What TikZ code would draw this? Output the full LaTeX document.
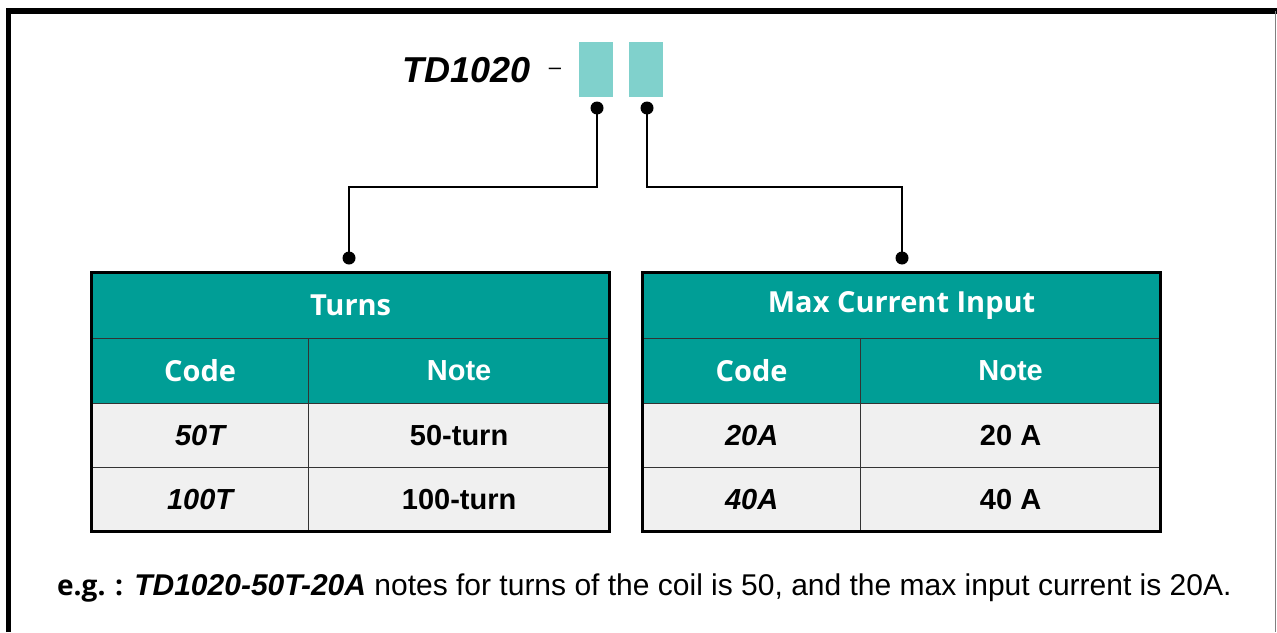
\documentclass[tikz,border=0pt]{standalone}
\usepackage{fontspec}
\setmainfont{Liberation Sans}
\IfFontExistsTF{NotoSans-Bold.ttf}{\newfontfamily\notob{NotoSans-Bold.ttf}}{%
 \IfFontExistsTF{Open Sans Bold}{\newfontfamily\notob{Open Sans Bold}}{%
  \newfontfamily\notob{Noto Sans}[FakeBold=2]}}
\definecolor{teal1}{HTML}{009E96}
\definecolor{teallight}{HTML}{80D1CC}
\definecolor{rowgray}{HTML}{F0F0F0}
\tikzset{
  hdr/.style={fill=teal1, draw=black!80, line width=1.2pt, inner sep=0pt, anchor=north west, text=white},
  cellb/.style={fill=rowgray, draw=black!80, line width=1.2pt, inner sep=0pt, anchor=north west, text=black},
  codebox/.style={fill=teallight, draw=none, minimum width=34pt, minimum height=55pt, inner sep=0pt, anchor=north west},
  conn/.style={line width=2.5pt, line cap=round},
  dotc/.style={circle, fill=black, inner sep=0pt, minimum size=13pt},
  outer/.style={draw=black, line width=3pt},
}
\newcommand{\hfont}{\notob\fontsize{29}{34}\selectfont}
\newcommand{\afont}{\fontsize{29}{34}\selectfont\bfseries}
\begin{document}
\begin{tikzpicture}[x=1pt,y=-1pt]
\useasboundingbox (0,0) rectangle (1277,632);
\fill[white] (0,0) rectangle (1277,632);
% outer frame
\draw[line width=5.5pt] (8.5,632) -- (8.5,11) -- (1277,11);
\draw[gray, line width=1pt] (1275,11) -- (1275,632);

% title
\node[anchor=east, inner sep=0pt] (title) at (531,70) {\fontsize{36}{40}\selectfont\bfseries\itshape TD1020};
\node[anchor=center, inner sep=0pt] (dash) at (555,71) {\fontsize{22}{26}\selectfont –};
\node[codebox] (b1) at (579,42) {};
\node[codebox] (b2) at (629,42) {};
\node[dotc] (d1) at (597,108) {};
\node[dotc] (d2) at (647,108) {};

% table 1
\node[hdr, minimum width=518pt, minimum height=66pt] (t1h) at (91,272) {\hfont Turns};
\node[hdr, minimum width=217pt, minimum height=65pt] (t1c) at (91,338) {\hfont Code};
\node[hdr, minimum width=301pt, minimum height=65pt] (t1n) at (308,338) {\afont Note};
\node[cellb, minimum width=217pt, minimum height=64pt] (t1r1c) at (91,403) {\afont\itshape 50T};
\node[cellb, minimum width=301pt, minimum height=64pt] (t1r1n) at (308,403) {\afont 50-turn};
\node[cellb, minimum width=217pt, minimum height=64pt] (t1r2c) at (91,467) {\afont\itshape 100T};
\node[cellb, minimum width=301pt, minimum height=64pt] (t1r2n) at (308,467) {\afont 100-turn};
\draw[outer] (91,272) rectangle (609,531);

% table 2
\node[hdr, minimum width=518pt, minimum height=66pt] (t2h) at (642,272) {\hfont Max Current Input};
\node[hdr, minimum width=218pt, minimum height=65pt] (t2c) at (642,338) {\hfont Code};
\node[hdr, minimum width=300pt, minimum height=65pt] (t2n) at (860,338) {\afont Note};
\node[cellb, minimum width=218pt, minimum height=64pt] (t2r1c) at (642,403) {\afont\itshape 20A};
\node[cellb, minimum width=300pt, minimum height=64pt] (t2r1n) at (860,403) {\afont 20 A};
\node[cellb, minimum width=218pt, minimum height=64pt] (t2r2c) at (642,467) {\afont\itshape 40A};
\node[cellb, minimum width=300pt, minimum height=64pt] (t2r2n) at (860,467) {\afont 40 A};
\draw[outer] (642,272) rectangle (1160,531);

% connectors
\node[dotc] (e1) at (349,258) {};
\node[dotc] (e2) at (902,258) {};
\draw[conn] (d1.center) -- (597,187) -| (e1.center);
\draw[conn] (d2.center) -- (647,187) -| (e2.center);

% footnote
\node[anchor=base west, inner sep=0pt] (foot) at (57,595) {\fontsize{30}{34}\selectfont{\notob\fontsize{28}{32}\selectfont e.g. :} {\bfseries\itshape TD1020-50T-20A} notes for turns of the coil is 50, and the max input current is 20A.};
\end{tikzpicture}
\end{document}
